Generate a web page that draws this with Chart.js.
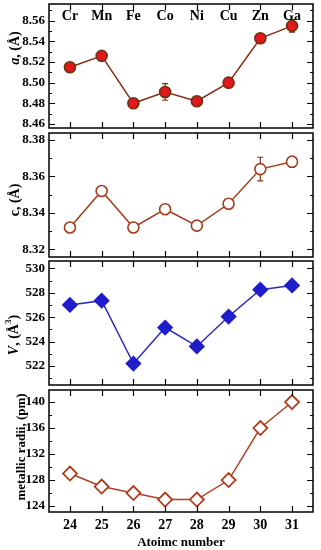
<!DOCTYPE html>
<html>
<head>
<meta charset="utf-8">
<script src="https://cdn.jsdelivr.net/npm/chart.js@4.4.0/dist/chart.umd.min.js"></script>
<style>
body { margin: 0; background: #fff; }
#wrap { position: relative; width: 321px; height: 550px; }
canvas { position: absolute; left: 0; }
</style>
</head>
<body>
<div id="wrap">
<canvas id="c1" width="321" height="132" style="top:0px"></canvas>
<canvas id="c2" width="321" height="132" style="top:129px"></canvas>
<canvas id="c3" width="321" height="132" style="top:257px"></canvas>
<canvas id="c4" width="321" height="164" style="top:386px"></canvas>
</div>
<script>
const atomicNumber = [24, 25, 26, 27, 28, 29, 30, 31]
const elements = ["Cr", "Mn", "Fe", "Co", "Ni", "Cu", "Zn", "Ga"]

const latticeA = [8.515, 8.526, 8.480, 8.491, 8.482, 8.500, 8.543, 8.555]
const latticeAErr = [0, 0, 0, 0.008, 0, 0, 0.0045, 0.006]
const latticeC = [8.332, 8.352, 8.332, 8.342, 8.333, 8.345, 8.364, 8.368]
const latticeCErr = [0, 0, 0, 0, 0, 0, 0.0065, 0.003]
const cellVolume = [527.0, 527.35, 522.2, 525.15, 523.6, 526.05, 528.25, 528.6]
const metallicRadii = [129, 127, 126, 125, 125, 128, 136, 140]

const aTicks = [8.46, 8.48, 8.50, 8.52, 8.54, 8.56]
const cTicks = [8.32, 8.34, 8.36, 8.38]
const vTicks = [522, 524, 526, 528, 530]
const rTicks = [124, 128, 132, 136, 140]

const serif = '"Liberation Serif", "Times New Roman", serif'

// frame, inward ticks, error bars, element names, rotated y titles
const framePlugin = {
    id: "frame",
    beforeDatasetsDraw(chart, args, opts) {
        if (!opts.errors) return
        let ctx = chart.ctx, x = chart.scales.x, y = chart.scales.y
        let data = chart.data.datasets[0].data
        ctx.save()
        ctx.strokeStyle = opts.errorColor
        ctx.lineWidth = 1.2
        opts.errors.forEach((e, i) => {
            if (!e) return
            let px = x.getPixelForValue(data[i].x)
            let y1 = y.getPixelForValue(data[i].y + e)
            let y2 = y.getPixelForValue(data[i].y - e)
            ctx.beginPath()
            ctx.moveTo(px, y1); ctx.lineTo(px, y2)
            ctx.moveTo(px - 3, y1); ctx.lineTo(px + 3, y1)
            ctx.moveTo(px - 3, y2); ctx.lineTo(px + 3, y2)
            ctx.stroke()
        })
        ctx.restore()
    },
    afterDraw(chart, args, opts) {
        let ctx = chart.ctx, a = chart.chartArea
        let x = chart.scales.x, y = chart.scales.y
        ctx.save()
        ctx.strokeStyle = "#000"
        ctx.lineWidth = 1.5
        ctx.strokeRect(a.left, a.top, a.right - a.left, a.bottom - a.top)
        ctx.lineWidth = 1.2
        ctx.beginPath()
        atomicNumber.forEach(n => {
            let px = Math.round(x.getPixelForValue(n)) + 0.5
            ctx.moveTo(px, a.bottom); ctx.lineTo(px, a.bottom - 6)
            ctx.moveTo(px, a.top); ctx.lineTo(px, a.top + 6)
        })
        y.ticks.forEach(t => {
            let py = Math.round(y.getPixelForValue(t.value)) + 0.5
            ctx.moveTo(a.left, py); ctx.lineTo(a.left + 6, py)
            ctx.moveTo(a.right, py); ctx.lineTo(a.right - 6, py)
        })
        let step = y.ticks[1].value - y.ticks[0].value
        for (let i = 0; i < y.ticks.length + 1; i++) {
            let v = y.ticks[0].value + (i - 0.5) * step
            if (v < y.min || v > y.max) continue
            let py = Math.round(y.getPixelForValue(v)) + 0.5
            ctx.moveTo(a.left, py); ctx.lineTo(a.left + 3, py)
            ctx.moveTo(a.right, py); ctx.lineTo(a.right - 3, py)
        }
        ctx.stroke()

        ctx.fillStyle = "#000"
        if (opts.names) {
            ctx.font = "bold 14px " + serif
            ctx.textAlign = "center"
            ctx.textBaseline = "middle"
            opts.names.forEach((s, i) => {
                ctx.fillText(s, x.getPixelForValue(atomicNumber[i]), a.top + 12)
            })
        }

        // y title with mixed fonts
        let parts = opts.title
        ctx.translate(opts.titleX, opts.titleY)
        ctx.rotate(-Math.PI / 2)
        ctx.textAlign = "left"
        ctx.textBaseline = "middle"
        let total = 0
        parts.forEach(p => { ctx.font = p.f; total += ctx.measureText(p.t).width })
        let cx = -total / 2
        parts.forEach(p => {
            ctx.font = p.f
            ctx.fillText(p.t, cx, p.dy || 0)
            cx += ctx.measureText(p.t).width
        })
        ctx.restore()
    }
}

function makePanel(id, values, ds, yMin, yMax, yTicks, digits, frameOpts, last) {
    let xScale = {
        type: "linear",
        min: 23.34,
        max: 31.66,
        display: !!last,
        afterBuildTicks: s => { s.ticks = atomicNumber.map(v => ({ value: v })) },
        afterFit: s => {
            s.paddingLeft = 0
            s.paddingRight = 0
            if (last) s.height = 38
        },
        grid: { display: false, drawTicks: false },
        border: { display: false },
        ticks: { color: "#000", padding: 5, font: { family: serif, size: 14, weight: "bold" } },
        title: {
            display: !!last,
            text: "Atoimc number",
            color: "#000",
            padding: 0,
            font: { family: serif, size: 13, weight: "bold" }
        }
    }

    return new Chart(document.getElementById(id), {
        type: "line",
        data: {
            datasets: [Object.assign({
                data: atomicNumber.map((n, i) => ({ x: n, y: values[i] })),
                borderWidth: 1.5,
                pointBorderWidth: 1.6,
                tension: 0
            }, ds)]
        },
        options: {
            responsive: false,
            animation: false,
            layout: { autoPadding: false, padding: { left: 4, right: 8, top: 4, bottom: last ? 0 : 4 } },
            plugins: {
                legend: { display: false },
                tooltip: { enabled: false },
                frame: frameOpts
            },
            scales: {
                x: xScale,
                y: {
                    min: yMin,
                    max: yMax,
                    afterBuildTicks: s => { s.ticks = yTicks.map(v => ({ value: v })) },
                    afterFit: s => {
                        s.width = 45
                        s.paddingTop = 0
                        s.paddingBottom = 0
                    },
                    grid: { display: false, drawTicks: false },
                    border: { display: false },
                    ticks: {
                        color: "#000",
                        padding: 4,
                        font: { family: serif, size: 13, weight: "bold" },
                        callback: v => v.toFixed(digits)
                    }
                }
            }
        },
        plugins: [framePlugin]
    })
}

const bold14 = "bold 14px " + serif
const ital14 = "italic bold 14px " + serif

makePanel("c1", latticeA, {
    borderColor: "#8a2a10",
    pointStyle: "circle",
    pointRadius: 5.5,
    pointBackgroundColor: "#e3171c",
    pointBorderColor: "#6b3512"
}, 8.4561, 8.5762, aTicks, 2, {
    errors: latticeAErr,
    errorColor: "#7a2a10",
    names: elements,
    title: [{ t: "a", f: ital14 }, { t: ", (Å)", f: bold14 }],
    titleX: 15, titleY: 48
})

makePanel("c2", latticeC, {
    borderColor: "#a33c1a",
    pointStyle: "circle",
    pointRadius: 5.5,
    pointBackgroundColor: "#fff",
    pointBorderColor: "#a33c1a"
}, 8.3158, 8.3838, cTicks, 2, {
    errors: latticeCErr,
    errorColor: "#8a3015",
    title: [{ t: "c, (Å)", f: bold14 }],
    titleX: 15, titleY: 71
})

makePanel("c3", cellVolume, {
    borderColor: "#2b2bbf",
    pointStyle: "rectRot",
    pointRadius: 7,
    pointBackgroundColor: "#1d1dcc",
    pointBorderColor: "#1d1dcc"
}, 520.44, 530.6, vTicks, 0, {
    title: [{ t: "V", f: ital14 }, { t: ", (Å", f: bold14 }, { t: "3", f: "bold 9px " + serif, dy: -5 }, { t: ")", f: bold14 }],
    titleX: 14, titleY: 78
})

makePanel("c4", metallicRadii, {
    borderColor: "#b04020",
    pointStyle: "rectRot",
    pointRadius: 7,
    pointBorderWidth: 1.8,
    pointBackgroundColor: "#fff",
    pointBorderColor: "#b0381a"
}, 123.08, 141.85, rTicks, 0, {
    title: [{ t: "metallic radii, (pm)", f: "bold 13px " + serif }],
    titleX: 22, titleY: 61
}, true)
</script>
</body>
</html>
